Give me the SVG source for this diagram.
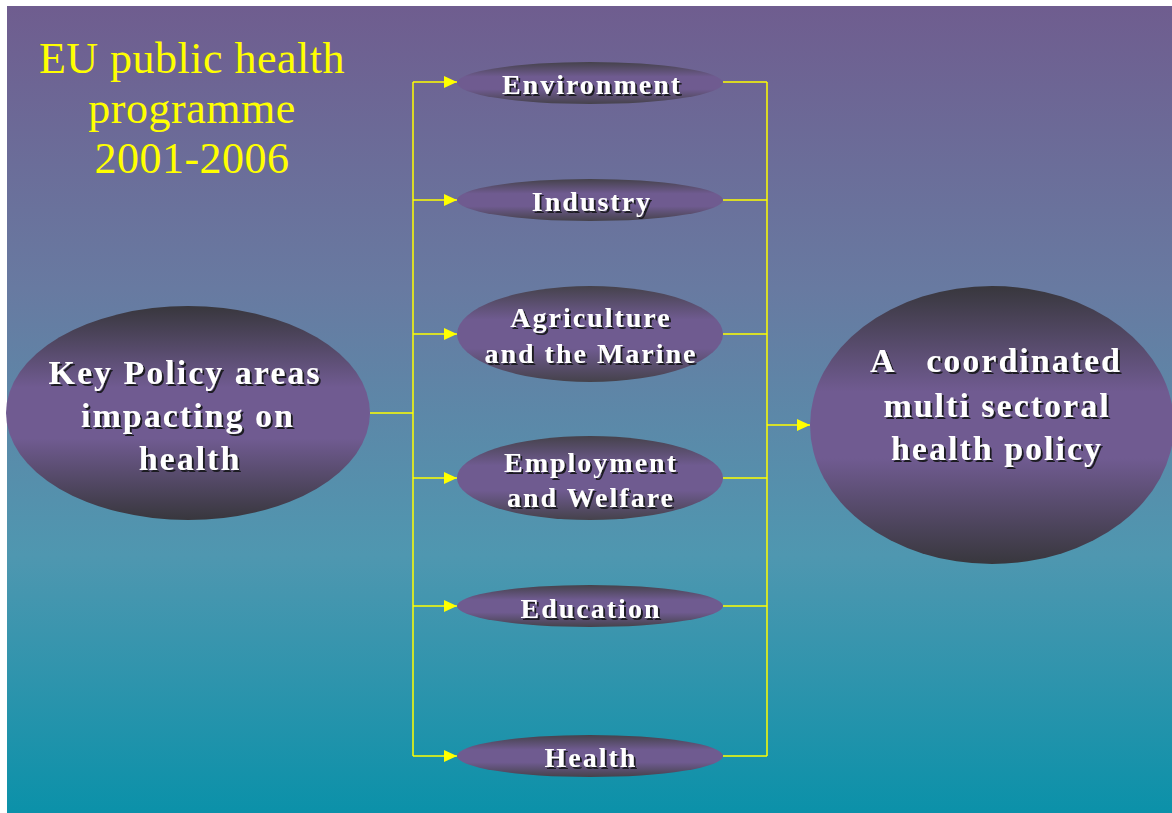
<svg xmlns="http://www.w3.org/2000/svg" width="1172" height="813" viewBox="0 0 1172 813">
<defs>
<linearGradient id="bg" x1="0" y1="0" x2="0" y2="1">
<stop offset="0" stop-color="#6f5d8f"/>
<stop offset="0.35" stop-color="#687aa1"/>
<stop offset="0.68" stop-color="#4f97b0"/>
<stop offset="1" stop-color="#0b91a9"/>
</linearGradient>
<linearGradient id="big" x1="0" y1="0" x2="0" y2="1">
<stop offset="0" stop-color="#38373d"/>
<stop offset="0.38" stop-color="#705b91"/>
<stop offset="0.62" stop-color="#705b91"/>
<stop offset="1" stop-color="#38373d"/>
</linearGradient>
<linearGradient id="small" x1="0" y1="0" x2="0" y2="1">
<stop offset="0" stop-color="#45424b"/>
<stop offset="0.35" stop-color="#6f5b90"/>
<stop offset="0.65" stop-color="#6f5b90"/>
<stop offset="1" stop-color="#45424b"/>
</linearGradient>
<filter id="sh" x="-10%" y="-30%" width="120%" height="160%">
<feDropShadow dx="2" dy="2" stdDeviation="0.4" flood-color="#1e1e24" flood-opacity="1"/>
</filter>
<marker id="arr" markerWidth="13" markerHeight="12" refX="13" refY="6" orient="auto" markerUnits="userSpaceOnUse">
<path d="M0,0 L13,6 L0,12 Z" fill="#ffff00"/>
</marker>
<style>
.title{font-family:"Liberation Serif","Times New Roman",serif;font-size:44px;fill:#ffff00;text-anchor:middle;letter-spacing:0.5px}
.lbl{font-family:"Liberation Serif","Times New Roman",serif;font-weight:bold;fill:#ffffff;text-anchor:middle;filter:url(#sh)}
.bigt{font-size:34px;letter-spacing:2px}
.smt{font-size:28px;letter-spacing:2px}
.ln{stroke:#ffff00;stroke-width:1.5;fill:none}
</style>
</defs>
<rect x="0" y="0" width="1172" height="813" fill="#ffffff"/>
<rect x="7" y="6" width="1165" height="807" fill="url(#bg)"/>
<g id="title">
<text class="title" x="192" y="73">EU public health</text>
<text class="title" x="192" y="123">programme</text>
<text class="title" x="192" y="173">2001-2006</text>
</g>
<g id="connectors">
<line class="ln" x1="370" y1="413" x2="413" y2="413"/>
<line class="ln" x1="413" y1="82" x2="413" y2="756"/>
<line class="ln" x1="413" y1="82" x2="457" y2="82" marker-end="url(#arr)"/>
<line class="ln" x1="413" y1="200" x2="457" y2="200" marker-end="url(#arr)"/>
<line class="ln" x1="413" y1="334" x2="457" y2="334" marker-end="url(#arr)"/>
<line class="ln" x1="413" y1="478" x2="457" y2="478" marker-end="url(#arr)"/>
<line class="ln" x1="413" y1="606" x2="457" y2="606" marker-end="url(#arr)"/>
<line class="ln" x1="413" y1="756" x2="457" y2="756" marker-end="url(#arr)"/>
<line class="ln" x1="723" y1="82" x2="767" y2="82"/>
<line class="ln" x1="723" y1="200" x2="767" y2="200"/>
<line class="ln" x1="723" y1="334" x2="767" y2="334"/>
<line class="ln" x1="723" y1="478" x2="767" y2="478"/>
<line class="ln" x1="723" y1="606" x2="767" y2="606"/>
<line class="ln" x1="723" y1="756" x2="767" y2="756"/>
<line class="ln" x1="767" y1="82" x2="767" y2="756"/>
<line class="ln" x1="767" y1="425" x2="810" y2="425" marker-end="url(#arr)"/>
</g>
<g id="key-policy">
<ellipse cx="188" cy="413" rx="182" ry="107" fill="url(#big)"/>
<text class="lbl bigt" x="185" y="384">Key Policy areas</text>
<text class="lbl bigt" x="188" y="427">impacting on</text>
<text class="lbl bigt" x="190" y="470">health</text>
</g>
<g id="coordinated">
<ellipse cx="992" cy="425" rx="182" ry="139" fill="url(#big)"/>
<text class="lbl bigt" x="996" y="372" xml:space="preserve">A   coordinated</text>
<text class="lbl bigt" x="997" y="417">multi sectoral</text>
<text class="lbl bigt" x="997" y="460">health policy</text>
</g>
<g id="environment">
<ellipse cx="590" cy="83" rx="133" ry="21" fill="url(#small)"/>
<text class="lbl smt" x="592" y="94">Environment</text>
</g>
<g id="industry">
<ellipse cx="590" cy="200" rx="133" ry="21" fill="url(#small)"/>
<text class="lbl smt" x="592" y="211">Industry</text>
</g>
<g id="agriculture">
<ellipse cx="590" cy="334" rx="133" ry="48" fill="url(#small)"/>
<text class="lbl smt" x="591" y="327">Agriculture</text>
<text class="lbl smt" x="591" y="363">and the Marine</text>
</g>
<g id="employment">
<ellipse cx="590" cy="478" rx="133" ry="42" fill="url(#small)"/>
<text class="lbl smt" x="591" y="472">Employment</text>
<text class="lbl smt" x="591" y="507">and Welfare</text>
</g>
<g id="education">
<ellipse cx="590" cy="606" rx="133" ry="21" fill="url(#small)"/>
<text class="lbl smt" x="591" y="618">Education</text>
</g>
<g id="health">
<ellipse cx="590" cy="756" rx="133" ry="21" fill="url(#small)"/>
<text class="lbl smt" x="591" y="767">Health</text>
</g>
</svg>
